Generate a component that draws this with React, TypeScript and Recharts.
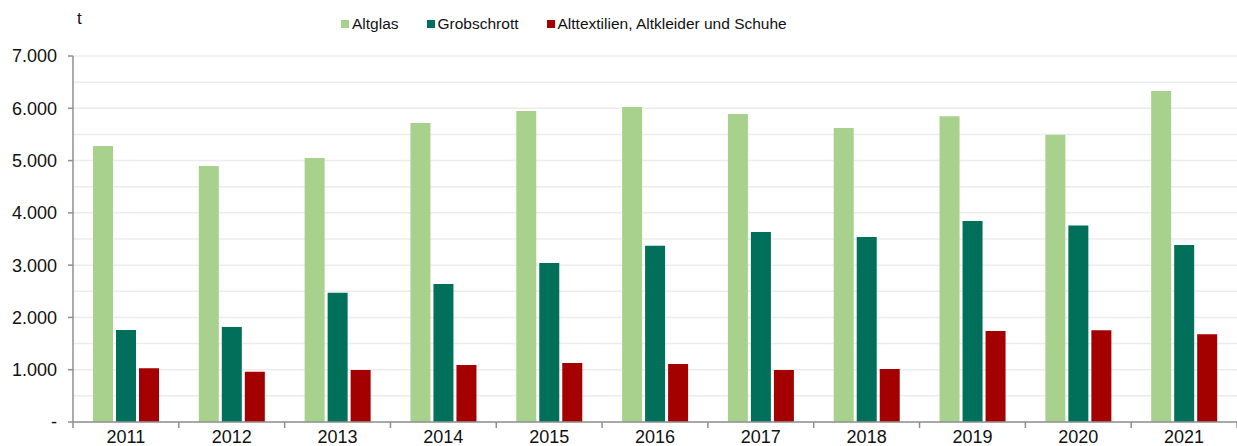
import { BarChart, Bar, XAxis, YAxis, CartesianGrid } from "recharts";

const years = ['2011', '2012', '2013', '2014', '2015', '2016', '2017', '2018', '2019', '2020', '2021'];
const altglas = [5280, 4895, 5050, 5720, 5950, 6025, 5890, 5625, 5850, 5495, 6330];
const grobschrott = [1760, 1815, 2470, 2640, 3040, 3370, 3635, 3540, 3845, 3760, 3385];
const alttextilien = [1030, 960, 995, 1090, 1130, 1110, 995, 1015, 1740, 1755, 1680];

const yTicks = [0, 1000, 2000, 3000, 4000, 5000, 6000, 7000];
const gridValues = [0, 500, 1000, 1500, 2000, 2500, 3000, 3500, 4000, 4500, 5000, 5500, 6000, 6500, 7000];

const series = [
  { key: 'altglas', name: 'Altglas', color: '#a9d18e' },
  { key: 'grobschrott', name: 'Grobschrott', color: '#00705a' },
  { key: 'alttextilien', name: 'Alttextilien, Altkleider und Schuhe', color: '#a50000' },
];

const data = years.map((year, i) => ({
  year,
  altglas: altglas[i],
  grobschrott: grobschrott[i],
  alttextilien: alttextilien[i],
}));

const FONT = '"Liberation Sans", Arial, sans-serif';
const AXIS = '#8f8f8f';

const fmt = (v: number) => (v === 0 ? '-' : v.toLocaleString('de-DE'));

const YearTick = ({ x, y, payload, index }: any) => {
  const half = payload?.offset || 52.9;
  return (
    <g>
      <line x1={x - half} x2={x - half} y1={y} y2={y + 6} stroke={AXIS} strokeWidth={1.5} />
      {index === years.length - 1 && (
        <line x1={x + half} x2={x + half} y1={y} y2={y + 6} stroke={AXIS} strokeWidth={1.5} />
      )}
      <text x={x} y={y + 21} textAnchor="middle" fontSize={18} fontFamily={FONT} fill="#111">
        {payload.value}
      </text>
    </g>
  );
};

const App = () => {
  return (
    <div style={{ position: 'absolute', left: 0, top: 0, width: 1237, height: 446, background: '#fff', fontFamily: FONT }}>
      <BarChart
        width={1237}
        height={446}
        data={data}
        margin={{ top: 56, right: 0, left: 0, bottom: 0 }}
        barCategoryGap={20}
        barGap={3}
      >
        <CartesianGrid vertical={false} horizontalValues={gridValues} stroke="#ececec" strokeWidth={1.5} />
        <XAxis
          dataKey="year"
          height={24}
          axisLine={{ stroke: AXIS, strokeWidth: 1.5 }}
          tickLine={false}
          tickSize={0}
          tickMargin={0}
          interval={0}
          tick={<YearTick />}
        />
        <YAxis
          width={73}
          domain={[0, 7000]}
          ticks={yTicks}
          interval={0}
          tickFormatter={fmt}
          axisLine={{ stroke: AXIS, strokeWidth: 1.5 }}
          tickLine={{ stroke: AXIS, strokeWidth: 1.5 }}
          tickSize={5}
          tickMargin={11}
          tick={{ fontSize: 18, fill: '#111', fontFamily: FONT }}
        />
        {series.map((s) => (
          <Bar key={s.key} dataKey={s.key} name={s.name} fill={s.color} barSize={20} isAnimationActive={false} />
        ))}
      </BarChart>

      <div style={{ position: 'absolute', left: 77, top: 9, fontSize: 17, color: '#111' }}>t</div>

      <div style={{ position: 'absolute', left: 341, top: 15, display: 'flex', alignItems: 'center', fontSize: 15.5, color: '#111', whiteSpace: 'nowrap' }}>
        {series.map((s, i) => (
          <div key={s.key} style={{ display: 'flex', alignItems: 'center', marginRight: i < series.length - 1 ? 28 : 0 }}>
            <span style={{ display: 'inline-block', width: 8, height: 8, background: s.color, marginRight: 3 }} />
            <span>{s.name}</span>
          </div>
        ))}
      </div>
    </div>
  );
};

export default App;
